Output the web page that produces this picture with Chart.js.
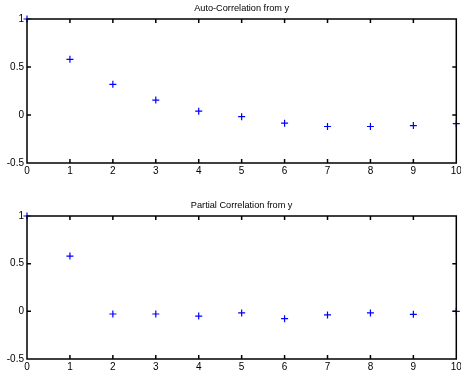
<!DOCTYPE html>
<html>
<head>
<meta charset="utf-8">
<script src="https://cdn.jsdelivr.net/npm/chart.js@4"></script>
<style>
  html, body { margin: 0; padding: 0; background: #fff; }
  .box { position: absolute; left: 0; width: 461px; height: 188px; }
  #b1 { top: 0; }
  #b2 { top: 188px; }
</style>
</head>
<body>
<div class="box" id="b1"><canvas id="acf"></canvas></div>
<div class="box" id="b2"><canvas id="pacf"></canvas></div>
<script>
var lags = [0, 1, 2, 3, 4, 5, 6, 7, 8, 9, 10];
var acfValues = [1, 0.58, 0.32, 0.155, 0.04, -0.017, -0.085, -0.12, -0.12, -0.11, -0.09];
var pacfValues = [1, 0.58, -0.028, -0.028, -0.05, -0.017, -0.077, -0.038, -0.017, -0.031, 0];
var yTicks = [1, 0.5, 0, -0.5];

Chart.defaults.font.family = "'Liberation Sans', Arial, sans-serif";
Chart.defaults.font.size = 10;
Chart.defaults.color = '#000';

// matlab style box with inward ticks + title on top
var matlabBox = {
  id: 'matlabBox',
  afterDatasetsDraw: function(chart, args, opts) {
    var c = chart.ctx, a = chart.chartArea;
    var xs = chart.scales.x, ys = chart.scales.y;
    c.save();
    c.strokeStyle = '#000000';
    c.lineWidth = 1.5;
    c.beginPath();
    c.rect(a.left, a.top, a.right - a.left, a.bottom - a.top);
    lags.forEach(function(v) {
      var px = xs.getPixelForValue(v);
      c.moveTo(px, a.top); c.lineTo(px, a.top + 4);
      c.moveTo(px, a.bottom); c.lineTo(px, a.bottom - 4);
    });
    yTicks.forEach(function(v) {
      var py = ys.getPixelForValue(v);
      c.moveTo(a.left, py); c.lineTo(a.left + 4, py);
      c.moveTo(a.right, py); c.lineTo(a.right - 4, py);
    });
    c.stroke();
    c.fillStyle = '#000';
    c.font = "9.2px 'Liberation Sans', Arial, sans-serif";
    c.textAlign = 'center';
    c.textBaseline = 'middle';
    c.fillText(opts.text, (a.left + a.right) / 2, a.top - 11);
    c.restore();
  }
};

function makeChart(id, values, title, padTop, xHeight) {
  return new Chart(document.getElementById(id), {
    type: 'scatter',
    data: {
      datasets: [{
        data: lags.map(function(l, i) { return { x: l, y: values[i] }; }),
        pointStyle: 'cross',
        pointRadius: 3.5,
        pointHoverRadius: 3.5,
        borderColor: '#0000ff',
        backgroundColor: '#0000ff',
        borderWidth: 1.2,
        clip: false
      }]
    },
    options: {
      responsive: true,
      maintainAspectRatio: false,
      animation: false,
      events: [],
      layout: { padding: { top: padTop, right: 4, left: 0, bottom: 0 } },
      plugins: {
        legend: { display: false },
        tooltip: { enabled: false },
        matlabBox: { text: title }
      },
      scales: {
        x: {
          type: 'linear', min: 0, max: 10,
          grid: { display: false, drawTicks: false }, border: { display: false },
          ticks: { stepSize: 1, padding: 2, maxRotation: 0 },
          afterFit: function(s) { s.height = xHeight; s.paddingLeft = 0; s.paddingRight = 0; }
        },
        y: {
          min: -0.5, max: 1,
          grid: { display: false, drawTicks: false }, border: { display: false },
          ticks: { stepSize: 0.5, padding: 3, callback: function(v) { return String(v); } },
          afterFit: function(s) { s.width = 27; s.paddingTop = 0; s.paddingBottom = 0; }
        }
      }
    },
    plugins: [matlabBox]
  });
}

makeChart('acf', acfValues, 'Auto-Correlation from y', 19, 25);
makeChart('pacf', pacfValues, 'Partial Correlation from y', 28, 17);
</script>
</body>
</html>
